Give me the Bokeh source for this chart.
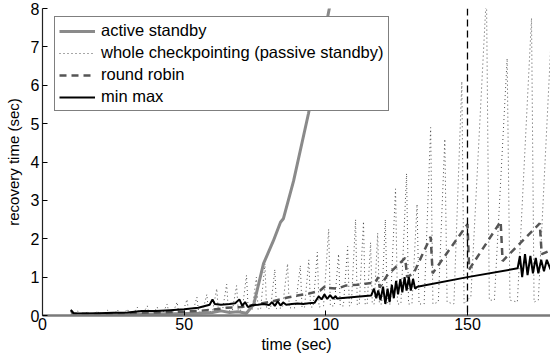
from bokeh.plotting import figure
from bokeh.models import Range1d, FixedTicker, Legend, LegendItem, Span
from bokeh.embed import file_html
from bokeh.resources import INLINE

# ---- data ----
x_ticks = [0, 50, 100, 150]
y_ticks = [0, 1, 2, 3, 4, 5, 6, 7, 8]

as_x = [10, 20, 30, 40, 50, 55, 60, 63, 66, 69, 72, 74.6, 78, 81.5, 84, 85, 88.6, 93.9, 101.5]
as_y = [0.03, 0.03, 0.04, 0.04, 0.05, 0.06, 0.08, 0.12, 0.08, 0.1, 0.06, 0.3, 1.35, 1.95, 2.43, 2.52, 3.5, 5.27, 8.1]

cp_x = [10,
        11.0, 12.5, 13.1, 14.5, 16, 16.6, 18.0, 19.5, 20.1, 21.5, 23, 23.6, 25.0, 26.5, 27.1,
        28.5, 30, 30.6, 32.0, 33.5, 34.1, 35.5, 37, 37.6, 39.0, 40.5, 41.1, 42.5, 44, 44.6,
        46.0, 47.5, 48.1, 49.5, 51, 51.6, 53.0, 54.5, 55.1, 56.5, 58, 58.6, 60.0, 61.5, 62.1,
        63.5, 65, 65.6, 67.0, 68.5, 69.1, 70.5, 72, 72.6, 74.0, 75.5, 76.1, 77.0, 78.5, 79.1,
        80.5, 82, 82.6, 84.7, 86.5, 87.1, 89.2, 91, 91.6, 92.5, 94, 94.6, 95.5, 97, 97.6,
        99.2, 101, 101.6, 103.0, 104.5, 105.1, 106.2, 107.7, 108.3, 109.0, 110.5, 111.1,
        111.8, 113.3, 113.9, 114.6, 115.8, 116.4, 117.1, 118.3, 118.9, 119.7, 121, 121.7,
        122.8, 124.6, 125.3, 126.5, 128.5, 129.2, 130.4, 132.2, 132.9, 134.7, 137, 137.8,
        139.7, 142, 142.8, 145.2, 148, 148.8, 151.2, 156.7, 157.7, 159.5, 164, 165,
        167.6, 172.6, 173.5, 175, 179.5]
cp_y = [0.02,
        0.02, 0.12, 0.02, 0.02, 0.1, 0.02, 0.03, 0.12, 0.03, 0.03, 0.14, 0.03, 0.03, 0.15, 0.03,
        0.04, 0.17, 0.04, 0.04, 0.22, 0.04, 0.05, 0.25, 0.05, 0.05, 0.22, 0.05, 0.06, 0.3, 0.06,
        0.06, 0.35, 0.06, 0.08, 0.42, 0.08, 0.08, 0.48, 0.08, 0.1, 0.55, 0.1, 0.1, 0.7, 0.1,
        0.12, 0.82, 0.12, 0.12, 0.78, 0.12, 0.15, 1.05, 0.15, 0.15, 1.0, 0.15, 0.18, 1.35, 0.18,
        0.18, 1.2, 0.18, 0.2, 1.35, 0.2, 0.2, 1.3, 0.2, 0.22, 1.45, 0.22, 0.22, 1.65, 0.22,
        0.25, 2.25, 0.25, 0.25, 1.6, 0.25, 0.25, 1.8, 0.25, 0.28, 2.5, 0.28,
        0.28, 2.45, 0.28, 0.3, 1.9, 0.3, 0.3, 2.15, 0.3, 0.3, 2.5, 0.3,
        0.3, 3.3, 0.3, 0.3, 3.7, 0.3, 0.3, 2.9, 0.3, 0.3, 4.9, 0.3,
        0.35, 4.6, 0.35, 0.3, 6.1, 0.3, 0.5, 8.4, 0.4, 0.4, 6.7, 0.4,
        0.35, 7.75, 0.35, 0.4, 7.2]

rr_x = [10, 11, 20, 30, 40, 50, 55, 60, 65, 70, 75, 80, 84, 86.5, 90, 94, 98, 100, 101, 104, 107,
        111, 114, 117.5, 118.5, 119, 121.6, 128, 128.7, 131, 137, 137.7, 150, 150.6, 161.7, 162.4,
        175.5, 176.2, 179.3]
rr_y = [0.12, 0.05, 0.04, 0.06, 0.08, 0.1, 0.12, 0.15, 0.2, 0.22, 0.28, 0.35, 0.42, 0.47, 0.52, 0.57,
        0.65, 0.78, 0.72, 0.7, 0.78, 0.8, 0.83, 0.86, 1.0, 0.73, 1.04, 1.5, 1.0, 1.1, 2.05, 1.1, 2.38,
        1.2, 2.45, 1.42, 2.4, 1.6, 1.7]

mm_x = [10, 10.5, 11, 15, 20, 25, 30, 35, 40, 45, 50, 55, 59, 60, 60.8, 63, 66, 68, 69.5, 70.5,
        71.5, 72.5, 74, 76, 78, 80, 81, 82, 83, 84, 85, 86, 88, 90, 92, 94, 96, 97.5, 98.5, 99.5,
        100.5, 101.5, 102.5, 103.5, 104, 116, 117, 117.8, 118.5, 119.3, 120.2, 121, 121.8, 122.5,
        123.3, 124, 124.8, 125.5, 126.3, 127, 127.8, 128.5, 129.3, 130, 130.8, 131.5, 132.3, 150,
        167.7, 168.5, 169.3, 170.3, 171.2, 172.2, 173.1, 174.1, 175, 176, 177, 178, 179.3]
mm_y = [0.15, 0.1, 0.06, 0.05, 0.06, 0.07, 0.08, 0.12, 0.12, 0.14, 0.16, 0.2, 0.28, 0.42, 0.3, 0.28,
        0.3, 0.32, 0.42, 0.25, 0.35, 0.22, 0.27, 0.28, 0.3, 0.27, 0.35, 0.25, 0.37, 0.26, 0.34, 0.28,
        0.3, 0.31, 0.3, 0.32, 0.33, 0.5, 0.42, 0.55, 0.43, 0.53, 0.44, 0.5, 0.44, 0.52, 0.7, 0.45,
        0.65, 0.4, 0.75, 0.3, 0.7, 0.35, 0.8, 0.45, 0.9, 0.55, 0.95, 0.6, 1.0, 0.65, 1.0, 0.65, 0.95,
        0.7, 0.75, 1.0, 1.23, 1.55, 1.0, 1.6, 1.05, 1.55, 1.1, 1.5, 1.1, 1.45, 1.15, 1.45, 1.2]

vline_x = 150

labels = ["active standby", "whole checkpointing (passive standby)", "round robin", "min max"]

FONT = "Liberation Sans"

p = figure(width=550, height=358, output_backend="svg", toolbar_location=None,
           x_range=Range1d(0, 179.3), y_range=Range1d(0, 8),
           min_border_left=42, min_border_right=0, min_border_top=8, min_border_bottom=43)
p.outline_line_color = None
p.grid.visible = False
p.background_fill_color = "white"
p.border_fill_color = "white"

r_cp = p.line(cp_x, cp_y, line_color="#3a3a3a", line_width=0.9, line_dash="1 3")
r_as = p.line(as_x, as_y, line_color="#8a8a8a", line_width=3)
r_rr = p.line(rr_x, rr_y, line_color="#555555", line_width=2.5, line_dash="7 5")
r_mm = p.line(mm_x, mm_y, line_color="black", line_width=2)

p.add_layout(Span(location=vline_x, dimension="height", line_color="black",
                  line_width=1.3, line_dash="7 4"))

for ax in (p.xaxis[0], p.yaxis[0]):
    ax.major_tick_in = 5
    ax.major_tick_out = 0
    ax.minor_tick_in = 0
    ax.minor_tick_out = 0
    ax.major_label_text_font = FONT
    ax.major_label_text_font_size = "16px"
    ax.major_label_text_color = "black"
    ax.axis_label_text_font = FONT
    ax.axis_label_text_font_style = "normal"
    ax.axis_label_text_color = "black"
    ax.major_tick_line_color = "black"

p.xaxis.ticker = FixedTicker(ticks=x_ticks)
p.yaxis.ticker = FixedTicker(ticks=y_ticks)
p.xaxis.axis_label = "time (sec)"
p.yaxis.axis_label = "recovery time (sec)"
p.xaxis.axis_label_text_font_size = "16px"
p.yaxis.axis_label_text_font_size = "15px"
p.xaxis.major_label_standoff = 2
p.yaxis.major_label_standoff = 3
p.xaxis.axis_label_standoff = 3
p.yaxis.axis_label_standoff = 6
p.xaxis.axis_line_color = "#7a7a7a"
p.xaxis.axis_line_width = 2.5
p.yaxis.axis_line_color = "#222222"
p.yaxis.axis_line_width = 1.2

legend = Legend(items=[LegendItem(label=labels[0], renderers=[r_as]),
                       LegendItem(label=labels[1], renderers=[r_cp]),
                       LegendItem(label=labels[2], renderers=[r_rr]),
                       LegendItem(label=labels[3], renderers=[r_mm])],
                location=(12, 204))
legend.label_text_font = FONT
legend.label_text_font_size = "16.5px"
legend.label_text_color = "black"
legend.glyph_width = 36
legend.glyph_height = 18
legend.label_height = 18
legend.label_standoff = 6
legend.spacing = 3
legend.padding = 4
legend.margin = 0
legend.border_line_color = "black"
legend.border_line_width = 1
legend.background_fill_color = "white"
legend.background_fill_alpha = 1.0
p.add_layout(legend)

open("out.html", "w").write(file_html(p, INLINE))
